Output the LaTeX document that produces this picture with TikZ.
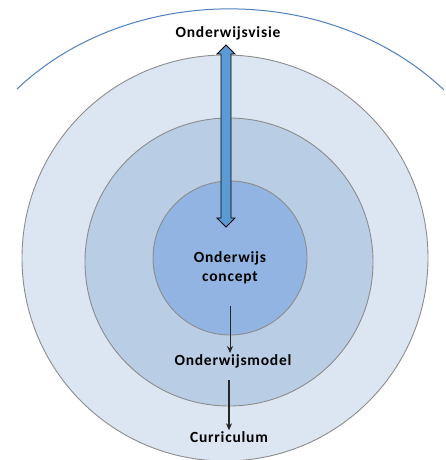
\documentclass[tikz,border=0pt]{standalone}
\usepackage{fontspec}
\setmainfont{Carlito}[LetterSpace=5]
\usetikzlibrary{arrows.meta,shapes.arrows}
\definecolor{ringA}{HTML}{DCE6F2}
\definecolor{ringB}{HTML}{B9CDE5}
\definecolor{ringC}{HTML}{92B4E3}
\definecolor{arcblue}{HTML}{4F81BD}
\definecolor{arrowblue}{HTML}{5B9BD5}
\tikzset{
  ring/.style={draw=black!45, line width=0.9pt},
  lbl/.style={font=\bfseries\fontsize{15.5}{18.5}\selectfont, align=center, inner sep=1pt},
  downarrow/.style={-{Stealth[length=7pt,width=6pt]}, black!85}
}
\begin{document}
\begin{tikzpicture}[x=1pt,y=-1pt]
\useasboundingbox (0,0) rectangle (446,460);
\fill[white] (0,0) rectangle (446,460);
% rings
\node[ring, circle, fill=ringA, minimum size=406pt, inner sep=0pt] (outer) at (225,258) {};
\node[ring, circle, fill=ringB, minimum size=288pt, inner sep=0pt] (middle) at (229,262) {};
\node[ring, circle, fill=ringC, minimum size=154pt, inner sep=0pt] (inner) at (230,258) {};
% top arc
\coordinate (arcL) at (17,89);
\coordinate (arcR) at (444,90);
\draw[arcblue, line width=1pt] (arcL) .. controls (130,-18) and (330,-18) .. (arcR);
% labels
\node[lbl] (visie) at (228,33) {Onderwijsvisie};
\node[lbl] (concept) at (230,268) {Onderwijs\\concept};
\node[lbl] (model) at (233,361) {Onderwijsmodel};
\node[lbl] (curr) at (229,437) {Curriculum};
% double arrow
\draw[black, line width=0.8pt, fill=arrowblue]
  (226,45) -- (235,54) -- (231,54) -- (231,218) -- (235,218) -- (226,227)
  -- (217,218) -- (221,218) -- (221,54) -- (217,54) -- cycle;
% down arrows
\coordinate (a1s) at (230,306);
\draw[downarrow, line width=0.9pt] (a1s) -- (model.north -| a1s);
\coordinate (a2s) at (229,380);
\draw[downarrow, line width=1.6pt] (a2s) -- (curr.north -| a2s);
\end{tikzpicture}
\end{document}
